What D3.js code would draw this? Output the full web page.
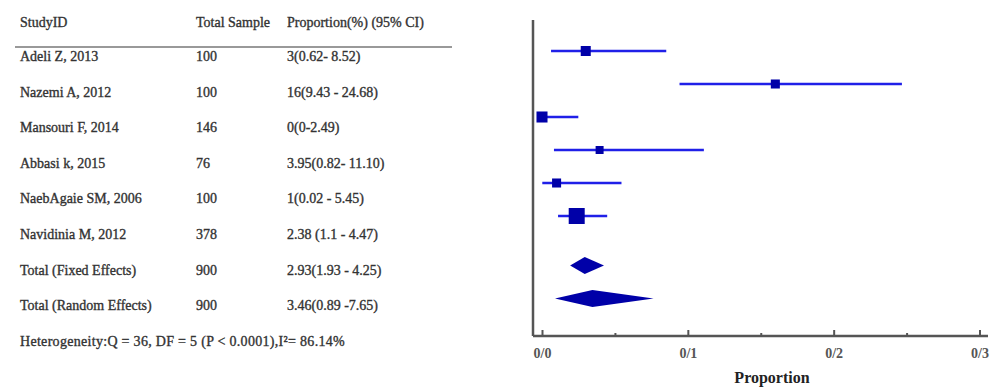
<!DOCTYPE html>
<html>
<head>
<meta charset="utf-8">
<script src="https://cdn.jsdelivr.net/npm/d3@7"></script>
<style>
  body { margin: 0; background: #fff; }
  svg text { font-family: "Liberation Serif", "DejaVu Serif", serif; fill: #333; }
  .cell { stroke: #333; stroke-width: 0.35px; }
</style>
</head>
<body>
<div id="chart"></div>
<script>
// study rows
const studies = ["Adeli Z, 2013", "Nazemi A, 2012", "Mansouri F, 2014", "Abbasi k, 2015", "NaebAgaie SM, 2006", "Navidinia M, 2012"];
const samples = [100, 100, 146, 76, 100, 378];
const props = [0.03, 0.16, 0, 0.0395, 0.01, 0.0238];
const lower = [0.0062, 0.0943, 0, 0.0082, 0.0002, 0.011];
const upper = [0.0852, 0.2468, 0.0249, 0.1110, 0.0545, 0.0447];
const weights = [13.5, 11, 16.4, 8.6, 11, 34.5];
const ciText = ["3(0.62- 8.52)", "16(9.43 - 24.68)", "0(0-2.49)", "3.95(0.82- 11.10)", "1(0.02 - 5.45)", "2.38 (1.1 - 4.47)"];

// pooled rows
const pooled = ["Total (Fixed Effects)", "Total (Random Effects)"];
const pooledN = [900, 900];
const pooledEst = [0.0293, 0.0346];
const pooledLo = [0.0193, 0.0089];
const pooledHi = [0.0425, 0.0765];
const pooledText = ["2.93(1.93 - 4.25)", "3.46(0.89 -7.65)"];

const headers = ["StudyID", "Total Sample", "Proportion(%) (95% CI)"];
const heterogeneity = "Heterogeneity:Q = 36, DF = 5 (P < 0.0001),I\u00B2= 86.14%";
const xTicks = [0, 0.1, 0.2, 0.3];
const xMinor = [0.05, 0.15, 0.25];

const width = 1000, height = 387;
const svg = d3.select("#chart").append("svg")
    .attr("width", width).attr("height", height);

// ---- table ----
const colX = [20, 196, 287];
const textY = d3.scaleLinear().domain([0, 8]).range([56, 341]);

svg.selectAll(".hdr").data(headers).enter().append("text")
    .attr("class", "cell")
    .attr("x", (d, i) => colX[i]).attr("y", 22).attr("dy", "0.35em")
    .style("font-size", "14px").text(d => d);

svg.append("line").attr("x1", 15).attr("x2", 452).attr("y1", 47).attr("y2", 47)
    .attr("stroke", "#777").attr("stroke-width", 1.5);

const tableRows = studies.map((s, i) => [s, samples[i], ciText[i]])
    .concat(pooled.map((s, i) => [s, pooledN[i], pooledText[i]]));

tableRows.forEach((row, r) => {
    row.forEach((cell, c) => {
        svg.append("text").attr("class", "cell")
            .attr("x", colX[c]).attr("y", textY(r)).attr("dy", "0.35em")
            .style("font-size", "14px").text(cell);
    });
});

svg.append("text").attr("class", "cell").attr("x", 20).attr("y", textY(8)).attr("dy", "0.35em")
    .style("font-size", "14px").style("letter-spacing", "0.3px").text(heterogeneity);

// ---- forest plot ----
const x = d3.scaleLinear().domain([0, 0.3]).range([542, 979.5]);
const y = d3.scaleLinear().domain([0, 7.5]).range([51, 298.5]);
const size = d3.scaleSqrt().domain([0, 34.5]).range([0, 16]);
const axisY = 336;

// axis frame
svg.append("line").attr("x1", 533).attr("x2", 533).attr("y1", 20).attr("y2", axisY)
    .attr("stroke", "#555").attr("stroke-width", 2.5);
svg.append("line").attr("x1", 533).attr("x2", 988).attr("y1", axisY).attr("y2", axisY)
    .attr("stroke", "#555").attr("stroke-width", 2.5);

const axis = svg.append("g").attr("transform", `translate(0,${axisY})`)
    .call(d3.axisBottom(x).tickValues(xTicks).tickSizeInner(-6).tickSizeOuter(0)
        .tickPadding(12).tickFormat(d => d3.format(".1f")(d).replace(".", "/")));
axis.select(".domain").remove();
axis.selectAll(".tick line").attr("stroke", "#555").attr("stroke-width", 2);
axis.selectAll(".tick text").style("font-size", "14px").style("font-weight", "bold")
    .style("fill", "#555").style("font-family", "'Liberation Serif', serif");

const minor = svg.append("g").attr("transform", `translate(0,${axisY})`)
    .call(d3.axisBottom(x).tickValues(xMinor).tickSizeInner(-3).tickSizeOuter(0).tickFormat(""));
minor.select(".domain").remove();
minor.selectAll(".tick line").attr("stroke", "#555").attr("stroke-width", 2);

svg.append("text").attr("x", 772).attr("y", 383).attr("text-anchor", "middle")
    .style("font-size", "16px").style("font-weight", "bold").style("fill", "#222")
    .text("Proportion");

// CI lines
svg.selectAll(".ci").data(studies).enter().append("line")
    .attr("x1", (d, i) => x(lower[i])).attr("x2", (d, i) => x(upper[i]))
    .attr("y1", (d, i) => y(i)).attr("y2", (d, i) => y(i))
    .attr("stroke", "#2020e8").attr("stroke-width", 2.5);

// point markers sized by weight
svg.selectAll(".pt").data(studies).enter().append("rect")
    .attr("x", (d, i) => x(props[i]) - size(weights[i]) / 2)
    .attr("y", (d, i) => y(i) - size(weights[i]) / 2)
    .attr("width", (d, i) => size(weights[i]))
    .attr("height", (d, i) => size(weights[i]))
    .attr("fill", "#0000a8");

// pooled diamonds
const diamondRows = [6.5, 7.5];
svg.selectAll(".dia").data(pooled).enter().append("path")
    .attr("d", (d, i) => {
        const cy = y(diamondRows[i]), h = 8.5;
        return `M${x(pooledLo[i])},${cy} L${x(pooledEst[i])},${cy - h} L${x(pooledHi[i])},${cy} L${x(pooledEst[i])},${cy + h} Z`;
    })
    .attr("fill", "#0000a8");
</script>
</body>
</html>
